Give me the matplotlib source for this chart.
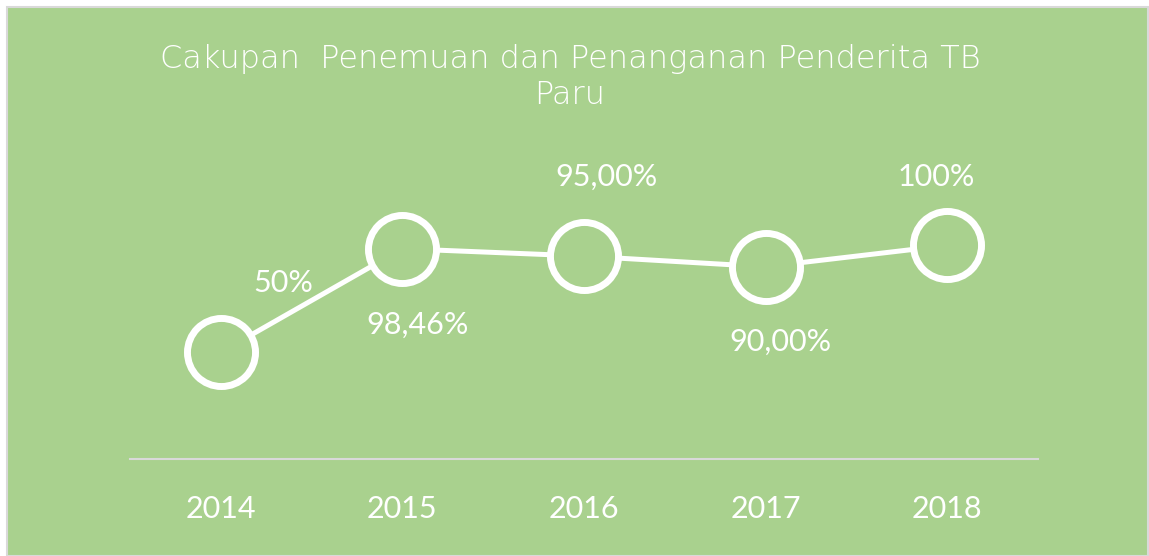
import numpy as np
import matplotlib.pyplot as plt

# data
years = ["2014", "2015", "2016", "2017", "2018"]
values = [50, 98.46, 95, 90, 100]
labels = ["50%", "98,46%", "95,00%", "90,00%", "100%"]

# label offsets from the marker, in points
offsets = [(45, 50), (11, -55), (16, 57), (11, -54), (-8, 49)]

bg = "#A9D18E"

fig = plt.figure(figsize=(11.49, 5.56), dpi=100)
fig.patch.set_facecolor("white")
# green chart area with thin grey border
fig.patches.append(plt.Rectangle((7/1149, 0), 1141/1149, 549/556, transform=fig.transFigure,
                                 facecolor=bg, edgecolor="#D9D9D9", linewidth=1.5, zorder=-1))

ax = fig.add_axes([130/1149, 97/556, 908/1149, 256.3/556])
ax.set_facecolor("none")

x = np.arange(len(years))
ax.plot(x, values, color="white", linewidth=3.6, marker="o", markersize=49,
        markerfacecolor=bg, markeredgecolor="white", markeredgewidth=5, zorder=3,
        clip_on=False)

for i, (v, lab, off) in enumerate(zip(values, labels, offsets)):
    ax.annotate(lab, (i, v), xytext=off, textcoords="offset points",
                ha="center", va="center", color="white", fontsize=22, family="Lato")

ax.set_xlim(-0.5, 4.5)
ax.set_ylim(0, 120)
ax.set_xticks(x)
ax.set_xticklabels(years, color="white", fontsize=22, family="Lato")
ax.tick_params(axis="x", length=0, pad=26)
ax.set_yticks([])
for s in ["top", "right", "left"]:
    ax.spines[s].set_visible(False)
ax.spines["bottom"].set_color("#D9D9D9")
ax.spines["bottom"].set_linewidth(1.5)

fig.text(570/1149, 1 - 77/556, "Cakupan  Penemuan dan Penanganan Penderita TB\nParu",
         ha="center", va="center", color="white", fontsize=23, family="DejaVu Sans",
         fontweight="light", linespacing=1.25)

fig.savefig("out.png", dpi=100, facecolor=fig.get_facecolor())
